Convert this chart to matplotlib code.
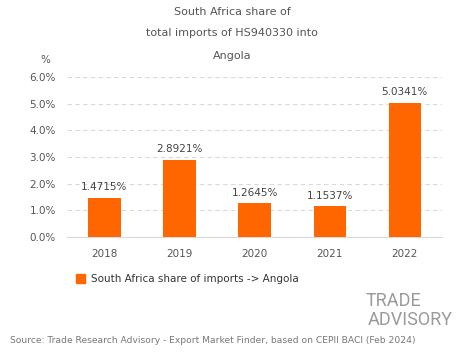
import matplotlib.pyplot as plt
from matplotlib.ticker import FuncFormatter

years = ["2018", "2019", "2020", "2021", "2022"]
shares = [1.4715, 2.8921, 1.2645, 1.1537, 5.0341]
bar_labels = ["1.4715%", "2.8921%", "1.2645%", "1.1537%", "5.0341%"]
yticks = [0, 1, 2, 3, 4, 5, 6]

orange = "#FF6600"
grey = "#555555"

fig = plt.figure(figsize=(4.65, 3.59), dpi=100)
ax = fig.add_axes([0.144, 0.340, 0.807, 0.446])

x = range(len(years))
ax.bar(x, shares, width=0.43, color=orange, zorder=3)
for i, v in enumerate(shares):
    ax.text(i, v + 0.2, bar_labels[i], ha="center", va="bottom", fontsize=7.5, color="#444444")

ax.set_xlim(-0.5, 4.5)
ax.set_ylim(0, 6)
ax.set_yticks(yticks)
ax.yaxis.set_major_formatter(FuncFormatter(lambda v, p: f"{v:.1f}%"))
ax.set_xticks(list(x))
ax.set_xticklabels(years)
ax.grid(axis="y", linestyle=(0, (4, 3)), color="#d9d9d9", linewidth=0.8, zorder=0)
for s in ["top", "right", "left"]:
    ax.spines[s].set_visible(False)
ax.spines["bottom"].set_color("#d9d9d9")
ax.tick_params(axis="both", length=0, labelsize=7.5, labelcolor=grey)
ax.tick_params(axis="x", pad=9)
ax.tick_params(axis="y", pad=8)

fig.text(0.499, 0.967, "South Africa share of", ha="center", va="center", fontsize=8, color=grey)
fig.text(0.499, 0.908, "total imports of HS940330 into", ha="center", va="center", fontsize=8, color=grey)
fig.text(0.499, 0.844, "Angola", ha="center", va="center", fontsize=8, color=grey)
fig.text(0.097, 0.832, "%", ha="center", va="center", fontsize=7.5, color=grey)

# legend
fig.patches.append(plt.Rectangle((0.163, 0.212), 0.019, 0.025, transform=fig.transFigure,
                                 color=orange, figure=fig))
fig.text(0.195, 0.224, "South Africa share of imports -> Angola", ha="left", va="center",
         fontsize=7.5, color="#333333")

# logo
fig.text(0.786, 0.148, "TRADE", ha="left", va="baseline", fontsize=13, color="#9a9a9a",
         family="Roboto")
fig.text(0.790, 0.096, "ADVISORY", ha="left", va="baseline", fontsize=13, color="#9a9a9a",
         family="Roboto")

fig.text(0.022, 0.052, "Source: Trade Research Advisory - Export Market Finder, based on CEPII BACI (Feb 2024)",
         ha="left", va="center", fontsize=6.6, color="#777777")

fig.savefig("out.png", dpi=100)
